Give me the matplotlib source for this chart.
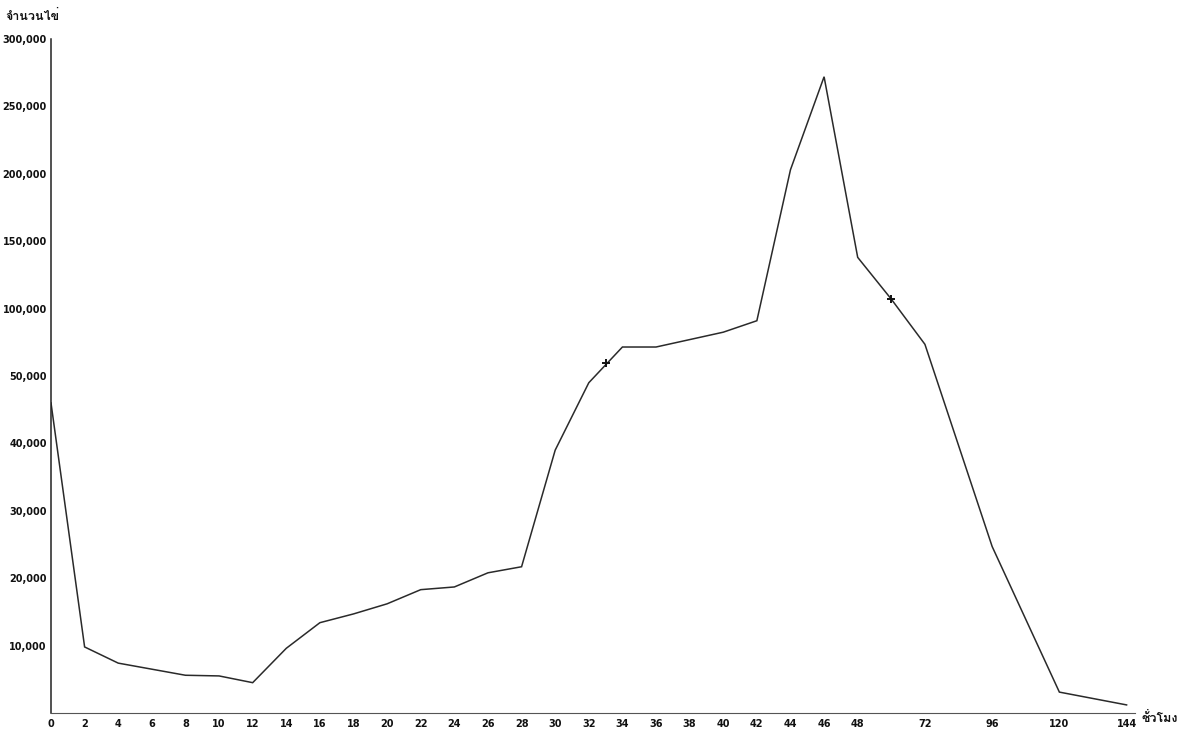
import numpy as np
import matplotlib
matplotlib.use("Agg")
import matplotlib.pyplot as plt
from matplotlib import font_manager as fm
from matplotlib.ft2font import FT2Font

# ---------------- data ----------------
hours = [0, 2, 4, 6, 8, 10, 12, 14, 16, 18, 20, 22, 24, 26, 28, 30, 32, 34,
         36, 38, 40, 42, 44, 46, 48, 60, 72, 96, 120, 144]
counts = [46000, 9800, 7400, 6500, 5600, 5500, 4500, 9600, 13400, 14700,
          16200, 18300, 18700, 20800, 21700, 39000, 49000, 71500, 71500,
          77000, 82500, 91000, 203000, 272000, 138000, 107000, 73500,
          24700, 3100, 1200]
marked_hours = [33, 60]
marked_counts = [60000, 107000]

x_ticks = [0, 2, 4, 6, 8, 10, 12, 14, 16, 18, 20, 22, 24, 26, 28, 30, 32,
           34, 36, 38, 40, 42, 44, 46, 48, 72, 96, 120, 144]
x_ticklabels = [str(h) for h in x_ticks]
y_ticks = [10000, 20000, 30000, 40000, 50000, 100000, 150000, 200000,
           250000, 300000]
y_ticklabels = ["10,000", "20,000", "30,000", "40,000", "50,000",
                "100,000", "150,000", "200,000", "250,000", "300,000"]
y_title = "จำนวนไข่"
x_title = "ชั่วโมง"

# ---------------- fonts ----------------
def find_thai_font():
    seen = set()
    for f in fm.fontManager.ttflist:
        if f.fname in seen:
            continue
        seen.add(f.fname)
        try:
            cmap = FT2Font(f.fname).get_charmap()
        except Exception:
            continue
        if 0x0E08 in cmap and 0x0E27 in cmap:
            return f.name
    return None

thai = find_thai_font()
thai_family = [thai, "DejaVu Sans"] if thai else ["DejaVu Sans"]

# ---------------- scales ----------------
def x_fwd(h):
    h = np.asarray(h, dtype=float)
    return np.where(h <= 48, h / 2.0, 24 + (h - 48) / 12.0)

def x_inv(u):
    u = np.asarray(u, dtype=float)
    return np.where(u <= 24, u * 2.0, 48 + (u - 24) * 12.0)

def y_fwd(v):
    v = np.asarray(v, dtype=float)
    return np.where(v <= 50000, v / 10000.0, 5 + (v - 50000) / 50000.0)

def y_inv(u):
    u = np.asarray(u, dtype=float)
    return np.where(u <= 5, u * 10000.0, 50000 + (u - 5) * 50000.0)

# ---------------- figure ----------------
fig = plt.figure(figsize=(11.81, 7.32), dpi=100)
fig.patch.set_facecolor("white")
ax = fig.add_axes([51 / 1181, 1 - 713 / 732, (1135 - 51) / 1181, (713 - 39) / 732])
ax.set_xscale("function", functions=(x_fwd, x_inv))
ax.set_yscale("function", functions=(y_fwd, y_inv))

line_color = "#2a2a2a"
ax.plot(hours, counts, color=line_color, lw=1.1, solid_joinstyle="miter")
ax.plot(marked_hours, marked_counts, linestyle="none", marker="+",
        markersize=6, mew=1.4, color="#111111")

ax.set_xlim(0, 147)
ax.set_ylim(0, 300000)

ax.set_xticks(x_ticks)
ax.set_xticklabels(x_ticklabels)
ax.set_yticks(y_ticks)
ax.set_yticklabels(y_ticklabels)
ax.minorticks_off()
ax.tick_params(axis="both", length=0, labelsize=7, colors="#111111")
ax.tick_params(axis="x", pad=4)
ax.tick_params(axis="y", pad=3)
for lab in ax.get_xticklabels() + ax.get_yticklabels():
    lab.set_fontweight("bold")

for s in ["top", "right"]:
    ax.spines[s].set_visible(False)
ax.spines["left"].set_color("#222222")
ax.spines["left"].set_linewidth(1.1)
ax.spines["bottom"].set_color("#555555")
ax.spines["bottom"].set_linewidth(0.8)

fig.text(5 / 1181, 1 - 16 / 732, y_title, family=thai_family, fontsize=9,
         fontweight="bold", ha="left", va="center", color="#111111")
fig.text(1142 / 1181, 1 - 718 / 732, x_title, family=thai_family, fontsize=9,
         fontweight="bold", ha="left", va="center", color="#111111")

fig.savefig("out.png", dpi=100, facecolor="white")
